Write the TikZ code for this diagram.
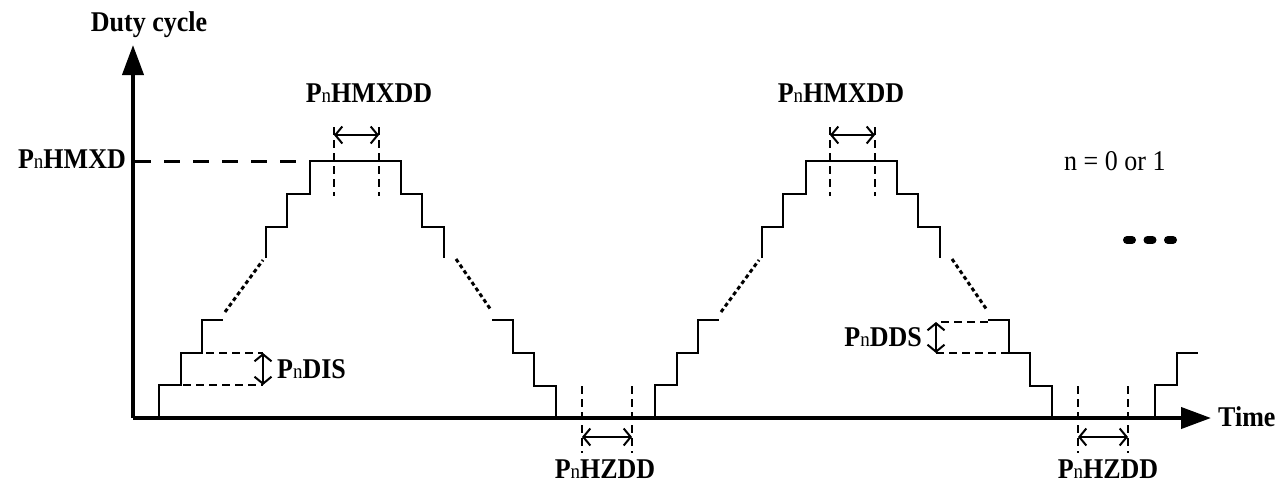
\documentclass[tikz,border=0pt]{standalone}
\usepackage{fontspec}
\usepackage{graphicx}
\setmainfont{Liberation Serif}
\usetikzlibrary{arrows.meta}
\newcommand\Pnn{P{\fontsize{19pt}{19pt}\selectfont\mdseries n}}
\newcommand\tallt[1]{\scalebox{1}[1.1]{#1}}
\begin{document}
\begin{tikzpicture}[x=1pt,y=-1pt,
  axis/.style={line width=4pt,-{Triangle[length=30pt,width=21pt]}},
  wave/.style={line width=2pt,line join=miter},
  dots/.style={line width=3pt,dash pattern=on 4pt off 3pt},
  guide/.style={line width=2pt,dash pattern=on 8pt off 5pt},
  bigguide/.style={line width=3pt,dash pattern=on 16pt off 13pt},
  dim/.style={line width=2pt,{Straight Barb[length=7pt,width=17pt]}-{Straight Barb[length=7pt,width=17pt]}},
  lbl/.style={inner sep=0pt,font=\bfseries\fontsize{26pt}{26pt}\selectfont},
  txt/.style={inner sep=0pt,font=\fontsize{26pt}{26pt}\selectfont}]
\useasboundingbox (0,0) rectangle (1286,483);
% axes
\coordinate (O) at (133,418);
\coordinate (Ytip) at (133,45);
\coordinate (Xtip) at (1211,418);
\draw[axis] (O) -- (Ytip);
\draw[axis] (O) -- (Xtip);
\node[lbl,anchor=base] (ylab) at (149,31) {\tallt{Duty cycle}};
\node[lbl,anchor=base west] (xlab) at (1218,426) {\tallt{Time}};
% max level
\node[lbl,anchor=base east] (hmxd) at (126,168) {\tallt{\Pnn HMXD}};
\draw[bigguide] (135,161) -- (310,161);
% waveform pulses (period 496)
\foreach \s in {0,496}{
  \begin{scope}[xshift=\s]
  \draw[wave] (159,418) -- (159,385) -- (181,385) -- (181,353) -- (202,353) -- (202,320) -- (223,320);
  \draw[dots] (225,312) -- (263,260);
  \draw[wave] (266,258) -- (266,227) -- (287,227) -- (287,194) -- (310,194) -- (310,161)
     -- (401,161) -- (401,194) -- (422,194) -- (422,227) -- (444,227) -- (444,258);
  \draw[dots] (456,259) -- (491,310);
  \draw[wave] (492,320) -- (513,320) -- (513,353) -- (534,353) -- (534,386) -- (556,386) -- (556,418);
  % max duration
  \draw[guide] (334,127) -- (334,196);
  \draw[guide] (379,127) -- (379,196);
  \draw[dim] (334,135) -- (379,135);
  % zero duration
  \draw[guide] (582,386) -- (582,453);
  \draw[guide] (632,386) -- (632,453);
  \draw[dim] (582,437) -- (632,437);
  \end{scope}}
\draw[wave] (1155,418) -- (1155,385) -- (1177,385) -- (1177,353) -- (1198,353);
\node[lbl,anchor=base] (hmxdd1) at (369,102) {\tallt{\Pnn HMXDD}};
\node[lbl,anchor=base] (hmxdd2) at (841,102) {\tallt{\Pnn HMXDD}};
\node[lbl,anchor=base] (hzdd1) at (605,478) {\tallt{\Pnn HZDD}};
\node[lbl,anchor=base] (hzdd2) at (1108,478) {\tallt{\Pnn HZDD}};
% increase step
\draw[guide] (206,353) -- (263,353);
\draw[guide] (183,385) -- (263,385);
\draw[dim] (263,353) -- (263,385);
\node[lbl,anchor=base west] (dis) at (277,378) {\tallt{\Pnn DIS}};
% decrease step
\draw[guide] (941,322) -- (990,322);
\draw[guide] (936,353) -- (1009,353);
\draw[dim] (936,322) -- (936,353);
\node[lbl,anchor=base east] (dds) at (922,346) {\tallt{\Pnn DDS}};
% note
\node[txt,anchor=base west] (note) at (1064,170) {\tallt{n = 0 or 1}};
% continuation
\foreach \cx in {1129.5,1150,1170.5}
  \draw[line width=8pt,line cap=round] (\cx-2.5,240) -- (\cx+2.5,240);
\end{tikzpicture}
\end{document}
